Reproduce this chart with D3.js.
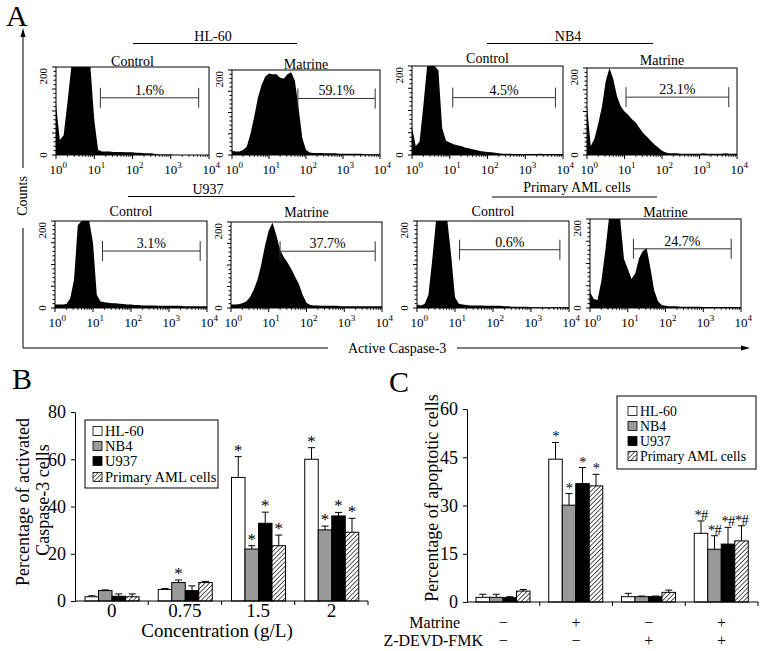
<!DOCTYPE html>
<html><head><meta charset="utf-8">
<script src="https://cdn.jsdelivr.net/npm/d3@7"></script>
<style>
body{margin:0;background:#fff}
svg{display:block}
text{font-family:"Liberation Serif","Times New Roman",serif;fill:#000}
</style>
</head><body>
<svg id="c" width="764" height="651" font-family="Liberation Serif, Times New Roman, serif"></svg>
<script>
// ---------------- DATA ----------------
// Panel A: flow cytometry histograms (counts, 0-200 scale) at log10 fluorescence 0.0,0.1,...,4.0
const logBins = d3.range(0, 4.001, 0.1);
const hl60Control   = [115,34,45,120,210,210,210,210,210,205,80,12,8,8,8,7,7,7,6,6,6,5,5,4,4,4,2,1,1,1,1,0,0,0,0,0,0,0,0,0,0];
const hl60Matrine   = [10,8,8,12,20,50,90,135,165,185,192,190,190,182,180,190,195,175,110,40,12,6,5,5,5,4,4,4,4,3,3,3,3,3,3,3,2,2,2,2,2];
const nb4Control    = [63,20,30,110,200,210,210,190,60,32,28,24,22,20,17,15,13,11,9,8,7,6,5,4,3,3,3,2,2,2,2,2,2,2,3,2,2,2,2,2,2];
const nb4Matrine    = [112,20,38,72,112,170,210,175,135,112,100,92,82,75,62,50,42,33,24,17,10,6,4,4,4,3,3,3,3,3,3,4,3,3,3,3,3,4,3,3,3];
const u937Control   = [8,8,8,9,22,65,190,210,210,210,150,30,15,13,12,11,11,10,9,8,8,7,7,6,6,6,6,5,5,5,5,5,5,5,4,4,4,4,4,4,4];
const u937Matrine   = [8,8,9,11,15,25,42,65,100,145,180,198,170,135,118,105,90,72,55,30,12,7,6,6,5,5,5,5,5,4,4,4,4,4,4,4,4,4,4,4,4];
const primaryControl= [8,6,9,30,110,210,210,210,210,120,25,10,8,7,6,6,6,6,5,5,5,5,5,4,4,3,3,3,3,3,2,2,2,2,2,2,2,2,2,2,2];
const primaryMatrine= [36,20,18,60,125,210,210,210,205,110,88,65,78,112,128,135,90,40,15,7,5,4,4,4,3,3,3,3,3,3,2,2,2,2,2,2,2,2,2,2,2];
const histograms = [hl60Control, hl60Matrine, nb4Control, nb4Matrine, u937Control, u937Matrine, primaryControl, primaryMatrine];
const conditions = ["Control","Matrine","Control","Matrine","Control","Matrine","Control","Matrine"];
// gate: start exponent, end exponent, count level
const gateStart = [1.16,1.78,1.08,1.04,1.25,1.30,1.12,1.15];
const gateEnd   = [3.73,3.87,3.80,3.78,3.82,3.82,3.76,3.74];
const gateLevel = [130,133,129,133,131,132,134,133];
const gatePercent = ["1.6%","59.1%","4.5%","23.1%","3.1%","37.7%","0.6%","24.7%"];
const cellLines = ["HL-60","NB4","U937","Primary AML cells"];
const decades = [0,1,2,3,4];

// Panel B
const concentrations = ["0","0.75","1.5","2"];
const seriesNames = ["HL-60","NB4","U937","Primary AML cells"];
const bHL60    = [1.8, 4.9, 52.3, 60.0];
const bNB4     = [4.4, 7.8, 22.0, 30.1];
const bU937    = [2.0, 4.4, 32.9, 36.0];
const bPrimary = [1.8, 7.8, 23.4, 29.1];
const bHL60Err    = [0.4, 0.4, 8.8, 4.9];
const bNB4Err     = [0.3, 1.1, 1.4, 1.6];
const bU937Err    = [1.0, 2.0, 4.7, 1.5];
const bPrimaryErr = [1.2, 0.5, 4.5, 5.9];
const bMarks = [["","","",""],["","*","",""],["*","*","*","*"],["*","*","*","*"]];
const bTicks = [0,20,40,60,80];

// Panel C
const cGroups = ["g1","g2","g3","g4"];
const matrineSigns = ["\u2212","+","\u2212","+"];
const zdevdSigns   = ["\u2212","\u2212","+","+"];
const cHL60    = [1.45, 44.4, 1.65, 21.35];
const cNB4     = [1.45, 30.1, 1.65, 16.4];
const cU937    = [1.35, 36.8, 1.65, 18.0];
const cPrimary = [3.4, 36.1, 3.0, 19.0];
const cHL60Err    = [0.95, 5.2, 1.05, 3.85];
const cNB4Err     = [0.95, 3.6, 0.2, 4.2];
const cU937Err    = [0.3, 5.0, 0.2, 5.2];
const cPrimaryErr = [0.5, 3.6, 0.7, 4.7];
const cMarks = [["","","",""],["*","*","*","*"],["","","",""],["*#","*#","*#","*#"]];
const cTicks = [0,15,30,45,60];

// ---------------- LAYOUT ----------------
const svg = d3.select("#c");
svg.append("rect").attr("width",764).attr("height",651).attr("fill","#fff");

const defs = svg.append("defs");
const pat = defs.append("pattern").attr("id","hatch").attr("patternUnits","userSpaceOnUse")
  .attr("width",3.2).attr("height",3.2).attr("patternTransform","rotate(45)");
pat.append("rect").attr("width",3.2).attr("height",3.2).attr("fill","#fff");
pat.append("line").attr("x1",0).attr("y1",0).attr("x2",0).attr("y2",3.2).attr("stroke","#000").attr("stroke-width",1.3);

const fills = ["#ffffff","#999999","#000000","url(#hatch)"];

// Panel letters
[["A",6,26],["B",12,389],["C",389,392]].forEach(([t,x,y])=>{
  svg.append("text").attr("x",x).attr("y",y).attr("font-size",30).text(t);
});

// ---- Panel A ----
const panelLayout = [
  {x0:56,x1:209,top:67,bottom:155,subY:66},
  {x0:232,x1:380,top:70,bottom:155,subY:69},
  {x0:412,x1:563,top:66,bottom:155,subY:63},
  {x0:587,x1:737,top:68,bottom:155,subY:65},
  {x0:55,x1:207,top:221,bottom:308,subY:216},
  {x0:231,x1:382,top:222,bottom:308,subY:217},
  {x0:417,x1:569,top:221,bottom:308,subY:216},
  {x0:590,x1:741,top:219,bottom:308,subY:217}
];
const groupLayout = [
  {cx:213,ty:41,l0:133,l1:297,ly:43.5},
  {cx:568,ty:41,l0:487,l1:653,ly:43.5},
  {cx:208,ty:194,l0:128,l1:295,ly:196.5},
  {cx:577,ty:192,l0:492,l1:657,ly:197}
];

cellLines.forEach((name,i)=>{
  const g = groupLayout[i];
  svg.append("text").attr("x",g.cx).attr("y",g.ty).attr("text-anchor","middle").attr("font-size",14).text(name);
  svg.append("line").attr("x1",g.l0).attr("x2",g.l1).attr("y1",g.ly).attr("y2",g.ly).attr("stroke","#000").attr("stroke-width",1);
});

histograms.forEach((counts,i)=>{
  const L = panelLayout[i];
  const xs = d3.scaleLog().domain([1,1e4]).range([L.x0,L.x1]);
  const ys = d3.scaleLinear().domain([0,200]).range([L.bottom,L.top]).clamp(true);
  const g = svg.append("g");
  const area = d3.area()
    .x((d,j)=>xs(Math.pow(10,logBins[j])))
    .y0(L.bottom).y1(d=>ys(d));
  g.append("path").datum(counts).attr("d",area).attr("fill","#000");
  g.append("rect").attr("x",L.x0).attr("y",L.top).attr("width",L.x1-L.x0).attr("height",L.bottom-L.top)
    .attr("fill","none").attr("stroke","#000").attr("stroke-width",1);
  g.selectAll("line.yt").data(d3.range(0,201,10)).join("line")
    .attr("x1",d=>L.x0-(d%50===0?4:2.5)).attr("x2",L.x0)
    .attr("y1",d=>ys(d)).attr("y2",d=>ys(d)).attr("stroke","#000").attr("stroke-width",1);
  const minor = [];
  decades.slice(0,4).forEach(k=>{ for(let m=2;m<10;m++) minor.push(m*Math.pow(10,k)); });
  g.selectAll("line.xm").data(minor).join("line")
    .attr("x1",d=>xs(d)).attr("x2",d=>xs(d)).attr("y1",L.bottom).attr("y2",L.bottom+2)
    .attr("stroke","#000").attr("stroke-width",0.8);
  g.selectAll("line.xM").data(decades).join("line")
    .attr("x1",d=>xs(Math.pow(10,d))).attr("x2",d=>xs(Math.pow(10,d))).attr("y1",L.bottom).attr("y2",L.bottom+4)
    .attr("stroke","#000").attr("stroke-width",1);
  decades.forEach(d=>{
    const t = g.append("text").attr("x",xs(Math.pow(10,d))-6.5).attr("y",L.bottom+19).attr("font-size",13);
    t.append("tspan").text("10");
    t.append("tspan").attr("dy",-6).attr("font-size",9).text(String(d));
  });
  g.append("text").attr("transform",`translate(${L.x0-9},${L.top+1}) rotate(-90)`).attr("text-anchor","end").attr("font-size",11).text("200");
  g.append("text").attr("transform",`translate(${L.x0-9},${L.bottom}) rotate(-90)`).attr("text-anchor","middle").attr("font-size",11).text("0");
  g.append("text").attr("x",(L.x0+L.x1)/2).attr("y",L.subY).attr("text-anchor","middle").attr("font-size",14).text(conditions[i]);
  const gx0 = xs(Math.pow(10,gateStart[i])), gx1 = xs(Math.pow(10,gateEnd[i])), gy = ys(gateLevel[i]);
  g.append("line").attr("x1",gx0).attr("x2",gx1).attr("y1",gy).attr("y2",gy).attr("stroke","#333").attr("stroke-width",1);
  [gx0,gx1].forEach(x=>g.append("line").attr("x1",x).attr("x2",x).attr("y1",gy-10).attr("y2",gy+10).attr("stroke","#333").attr("stroke-width",1));
  g.append("text").attr("x",(gx0+gx1)/2).attr("y",gy-3).attr("text-anchor","middle").attr("font-size",14).attr("fill","#222").text(gatePercent[i]);
});

// Counts / Active Caspase-3 axes
const axA = svg.append("g").attr("stroke","#000").attr("stroke-width",1);
axA.append("line").attr("x1",23).attr("x2",23).attr("y1",36).attr("y2",168);
axA.append("line").attr("x1",23).attr("x2",23).attr("y1",228).attr("y2",348);
axA.append("line").attr("x1",23).attr("x2",328).attr("y1",348).attr("y2",348);
axA.append("line").attr("x1",457).attr("x2",742).attr("y1",348).attr("y2",348);
svg.append("path").attr("d","M23,28 L20.5,37 L25.5,37 Z").attr("fill","#000");
svg.append("path").attr("d","M750,348 L741,345.5 L741,350.5 Z").attr("fill","#000");
svg.append("text").attr("transform","translate(27,196) rotate(-90)").attr("text-anchor","middle").attr("font-size",14).text("Counts");
svg.append("text").attr("x",348).attr("y",353).attr("font-size",14).text("Active Caspase-3");

// ---- Bar chart helper ----
function barChart(opts){
  const {cats, series, errs, marks, ticks, yMax, xRange, yRange, inner, markSize, markColor, markSpacing} = opts;
  const x = d3.scaleBand().domain(cats).range(xRange).padding(0);
  const xi = d3.scaleBand().domain(seriesNames).range(inner).padding(0);
  const y = d3.scaleLinear().domain([0,yMax]).range(yRange);
  const g = svg.append("g");
  cats.forEach((c,ci)=>{
    seriesNames.forEach((s,si)=>{
      const v = series[si][ci], e = errs[si][ci];
      const bx = x(c)+xi(s), bw = xi.bandwidth();
      const cx = bx + bw/2;
      g.append("line").attr("x1",cx).attr("x2",cx).attr("y1",y(v)).attr("y2",y(v+e)).attr("stroke","#000").attr("stroke-width",1);
      g.append("line").attr("x1",cx-3.5).attr("x2",cx+3.5).attr("y1",y(v+e)).attr("y2",y(v+e)).attr("stroke","#000").attr("stroke-width",1);
      g.append("rect").attr("x",bx).attr("y",y(v)).attr("width",bw).attr("height",y(0)-y(v))
        .attr("fill",fills[si]).attr("stroke","#000").attr("stroke-width",1);
      const m = marks[ci][si];
      if(m){
        g.append("text").attr("x",cx).attr("y",y(v+e)-1).attr("text-anchor","middle")
          .attr("font-size",markSize).attr("letter-spacing",markSpacing||0).attr("fill",markColor).text(m);
      }
    });
  });
  const ya = g.append("g").attr("transform",`translate(${xRange[0]},0)`)
    .call(d3.axisLeft(y).tickValues(ticks).tickSize(4).tickSizeOuter(0).tickPadding(5));
  ya.attr("font-family",null);
  ya.select(".domain").attr("stroke","#000");
  ya.selectAll("text").attr("font-size",18).attr("fill","#000");
  g.append("line").attr("x1",xRange[0]).attr("x2",xRange[1]).attr("y1",y(0)).attr("y2",y(0)).attr("stroke","#000");
  cats.forEach(c=>{
    const xe = x(c)+x.bandwidth();
    g.append("line").attr("x1",xe).attr("x2",xe).attr("y1",y(0)).attr("y2",y(0)+4).attr("stroke","#000");
  });
  return {x, y, g};
}

// ---- Panel B ----
const B = barChart({
  cats: concentrations,
  series: [bHL60,bNB4,bU937,bPrimary],
  errs: [bHL60Err,bNB4Err,bU937Err,bPrimaryErr],
  marks: bMarks, ticks: bTicks, yMax: 80,
  xRange:[75,368], yRange:[601,412], inner:[10,64], markSize:17, markColor:"#666"
});
concentrations.forEach(c=>{
  svg.append("text").attr("x",B.x(c)+B.x.bandwidth()/2).attr("y",617).attr("text-anchor","middle").attr("font-size",19).text(c);
});
svg.append("text").attr("x",217).attr("y",637).attr("text-anchor","middle").attr("font-size",19).text("Concentration (g/L)");
svg.append("text").attr("transform","translate(29,502) rotate(-90)").attr("text-anchor","middle").attr("font-size",18).text("Percentage of activated");
svg.append("text").attr("transform","translate(49,500) rotate(-90)").attr("text-anchor","middle").attr("font-size",18).text("Caspase-3 cells");

// ---- Panel C ----
const C = barChart({
  cats: cGroups,
  series: [cHL60,cNB4,cU937,cPrimary],
  errs: [cHL60Err,cNB4Err,cU937Err,cPrimaryErr],
  marks: cMarks, ticks: cTicks, yMax: 60,
  xRange:[467,758], yRange:[602,409], inner:[9,63], markSize:14.5, markColor:"#555", markSpacing:-0.8
});
svg.append("text").attr("transform","translate(438,498) rotate(-90)").attr("text-anchor","middle").attr("font-size",18).text("Percentage of apoptotic cells");
svg.append("text").attr("x",460).attr("y",628).attr("text-anchor","end").attr("font-size",16).text("Matrine");
svg.append("text").attr("x",483).attr("y",646).attr("text-anchor","end").attr("font-size",16).text("Z-DEVD-FMK");
cGroups.forEach((c,i)=>{
  const cx = C.x(c)+C.x.bandwidth()/2;
  svg.append("text").attr("x",cx).attr("y",628).attr("text-anchor","middle").attr("font-size",16).text(matrineSigns[i]);
  svg.append("text").attr("x",cx).attr("y",646).attr("text-anchor","middle").attr("font-size",16).text(zdevdSigns[i]);
});

// ---- Legends ----
function legend(x0,y0,w,h,sx,tx,rowY,fs){
  svg.append("rect").attr("x",x0).attr("y",y0).attr("width",w).attr("height",h).attr("fill","#fff").attr("stroke","#000");
  seriesNames.forEach((s,i)=>{
    svg.append("rect").attr("x",sx).attr("y",rowY[i]-4.5).attr("width",9).attr("height",9)
      .attr("fill",fills[i]).attr("stroke","#000").attr("stroke-width",0.8);
    svg.append("text").attr("x",tx).attr("y",rowY[i]+5).attr("font-size",fs).text(s);
  });
}
legend(85,420,133,68,93,105,[431,446,461,477],14.5);
legend(617,396,139,73,628,640,[411,426,441,456],13.8);
</script>
</body></html>
